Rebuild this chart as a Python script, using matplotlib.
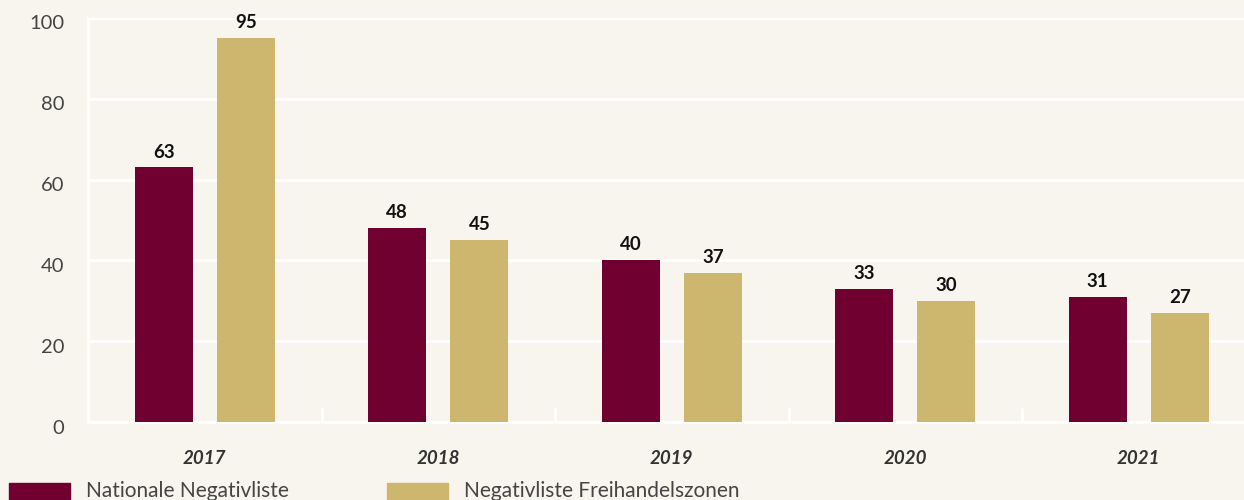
import matplotlib
matplotlib.use("Agg")
import matplotlib.pyplot as plt
import numpy as np
import matplotlib.transforms as mtransforms
from matplotlib.patches import Rectangle

years = ["2017", "2018", "2019", "2020", "2021"]
national = [63, 48, 40, 33, 31]
ftz = [95, 45, 37, 30, 27]
series_names = ["Nationale Negativliste", "Negativliste Freihandelszonen"]
yticks = [0, 20, 40, 60, 80, 100]

BG = "#F8F5EE"
MAROON = "#6F0030"
GOLD = "#CDB66D"

plt.rcParams['font.family'] = ['Lato', 'DejaVu Sans']

W, H = 1244, 500
fig = plt.figure(figsize=(W / 100, H / 100), dpi=100, facecolor=BG)
ax_left, ax_right = 88, 88 + 5 * 233.5
ax_top, ax_bot = 18, 422
ax = fig.add_axes([ax_left / W, 1 - ax_bot / H, (ax_right - ax_left) / W, (ax_bot - ax_top) / H])
ax.set_facecolor(BG)

x = np.arange(len(years))
bw = 0.248
off = 0.176
b1 = ax.bar(x - off, national, bw, color=MAROON, zorder=3)
b2 = ax.bar(x + off, ftz, bw, color=GOLD, zorder=3)
for bars, vals in ((b1, national), (b2, ftz)):
    for r, v in zip(bars, vals):
        ax.annotate(str(v), (r.get_x() + r.get_width() / 2, v), xytext=(0, 5),
                    textcoords="offset points", ha="center", va="bottom",
                    fontsize=13.5, fontweight="bold", color="#111111")

ax.set_xlim(-0.5, len(years) - 0.5)
ax.set_ylim(0, 100)
ax.set_yticks(yticks)
ax.set_yticklabels([str(t) for t in yticks])
ax.grid(axis="y", color="white", linewidth=2, zorder=0)
ax.set_axisbelow(True)
for s in ["top", "right"]:
    ax.spines[s].set_visible(False)
for s in ["left", "bottom"]:
    ax.spines[s].set_color("white")
    ax.spines[s].set_linewidth(2)
ax.tick_params(axis="y", length=0, labelsize=14.5, labelcolor="#444444", pad=17)
for lbl in ax.get_yticklabels():
    lbl.set_verticalalignment("center")
    lbl.set_transform(lbl.get_transform() + mtransforms.ScaledTranslation(0, -6 / 100, fig.dpi_scale_trans))

ax.set_xticks(x)
ax.set_xticklabels(years, fontsize=13.5, fontweight="bold", fontstyle="italic", color="#333333")
ax.tick_params(axis="x", length=0, pad=20)
ax.set_xticks(np.arange(0.5, len(years) - 0.5, 1), minor=True)
ax.tick_params(axis="x", which="minor", direction="in", length=10, width=2, color="white")

# legend drawn in figure pixel coordinates
def px(xp, yp):
    return xp / W, 1 - yp / H

for (x0, x1, tx), col, name in zip([(9, 70, 86), (387, 448, 464)], [MAROON, GOLD], series_names):
    fx, fy = px(x0, 500)
    fig.patches.append(Rectangle((fx, fy), (x1 - x0) / W, 17 / H, transform=fig.transFigure,
                                 color=col, figure=fig))
    tfx, tfy = px(tx, 491)
    fig.text(tfx, tfy, name, fontsize=15, color="#444444", va="center", ha="left")

fig.savefig("out.png", dpi=100, facecolor=BG)
